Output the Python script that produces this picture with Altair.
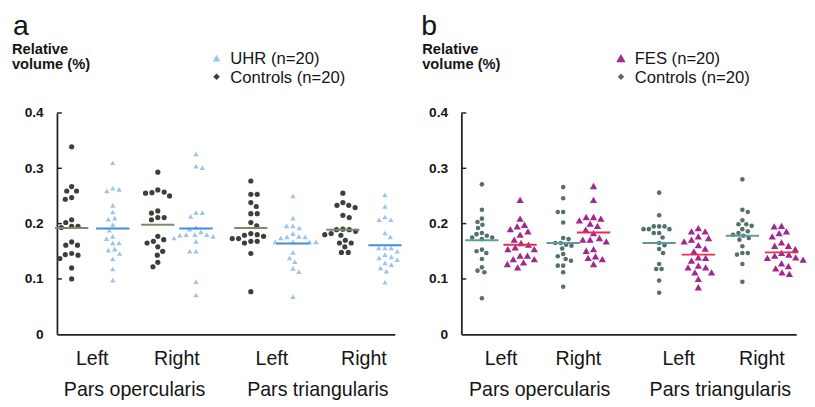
import altair as alt
import pandas as pd

# ---------------- data (relative volume, %) ----------------
SIDES = ["Left", "Right", "Left", "Right"]
REGIONS = ["Pars opercularis", "Pars triangularis"]

# Panel a: UHR vs controls
a_ctrl_LO = [0.339, 0.267, 0.259, 0.259, 0.247, 0.244, 0.207, 0.202, 0.195, 0.195, 0.193, 0.167, 0.161, 0.161, 0.146, 0.144, 0.143, 0.137, 0.120, 0.100]
a_uhr_LO = [0.310, 0.264, 0.262, 0.259, 0.233, 0.221, 0.210, 0.208, 0.198, 0.188, 0.177, 0.173, 0.165, 0.165, 0.154, 0.152, 0.146, 0.136, 0.118, 0.098]
a_ctrl_RO = [0.293, 0.261, 0.257, 0.256, 0.255, 0.250, 0.223, 0.219, 0.211, 0.211, 0.207, 0.177, 0.171, 0.168, 0.165, 0.158, 0.150, 0.143, 0.130, 0.122]
a_uhr_RO = [0.326, 0.304, 0.301, 0.220, 0.220, 0.213, 0.193, 0.190, 0.185, 0.180, 0.180, 0.180, 0.179, 0.177, 0.174, 0.168, 0.150, 0.150, 0.095, 0.071]
a_ctrl_LT = [0.277, 0.253, 0.253, 0.238, 0.231, 0.218, 0.218, 0.202, 0.196, 0.182, 0.180, 0.179, 0.177, 0.173, 0.173, 0.168, 0.168, 0.165, 0.146, 0.077]
a_uhr_LT = [0.250, 0.210, 0.196, 0.196, 0.192, 0.182, 0.177, 0.176, 0.176, 0.174, 0.167, 0.167, 0.167, 0.167, 0.148, 0.138, 0.131, 0.119, 0.113, 0.068]
a_ctrl_RT = [0.255, 0.238, 0.233, 0.233, 0.229, 0.215, 0.211, 0.190, 0.189, 0.189, 0.186, 0.182, 0.180, 0.179, 0.170, 0.165, 0.165, 0.158, 0.148, 0.148]
a_uhr_RT = [0.252, 0.231, 0.212, 0.207, 0.207, 0.183, 0.176, 0.156, 0.156, 0.156, 0.150, 0.144, 0.140, 0.138, 0.135, 0.129, 0.126, 0.120, 0.114, 0.094]
a_ctrl_means = [0.192, 0.198, 0.192, 0.189]
a_uhr_means = [0.191, 0.191, 0.164, 0.161]

# Panel b: FES vs controls
b_ctrl_LO = [0.271, 0.225, 0.209, 0.203, 0.198, 0.192, 0.183, 0.181, 0.178, 0.175, 0.175, 0.172, 0.153, 0.150, 0.147, 0.136, 0.121, 0.115, 0.112, 0.065]
b_fes_LO = [0.243, 0.209, 0.198, 0.195, 0.190, 0.186, 0.180, 0.171, 0.165, 0.162, 0.157, 0.154, 0.154, 0.142, 0.142, 0.136, 0.136, 0.130, 0.127, 0.121]
b_ctrl_RO = [0.266, 0.246, 0.221, 0.221, 0.202, 0.174, 0.172, 0.165, 0.165, 0.162, 0.160, 0.155, 0.145, 0.141, 0.136, 0.133, 0.124, 0.124, 0.112, 0.086]
b_fes_RO = [0.268, 0.243, 0.212, 0.212, 0.209, 0.206, 0.200, 0.196, 0.189, 0.183, 0.174, 0.171, 0.171, 0.168, 0.154, 0.151, 0.141, 0.138, 0.136, 0.127]
b_ctrl_LT = [0.256, 0.215, 0.195, 0.195, 0.195, 0.190, 0.190, 0.190, 0.183, 0.183, 0.175, 0.165, 0.161, 0.154, 0.147, 0.127, 0.118, 0.118, 0.097, 0.075]
b_fes_LT = [0.192, 0.186, 0.186, 0.177, 0.174, 0.171, 0.168, 0.161, 0.155, 0.150, 0.139, 0.138, 0.133, 0.124, 0.121, 0.121, 0.112, 0.112, 0.100, 0.085]
b_ctrl_RT = [0.280, 0.225, 0.221, 0.206, 0.199, 0.199, 0.196, 0.190, 0.186, 0.183, 0.180, 0.178, 0.174, 0.171, 0.159, 0.147, 0.147, 0.144, 0.127, 0.095]
b_fes_RT = [0.196, 0.195, 0.186, 0.183, 0.177, 0.166, 0.160, 0.160, 0.154, 0.147, 0.144, 0.142, 0.139, 0.138, 0.135, 0.128, 0.123, 0.119, 0.112, 0.109]
b_ctrl_means = [0.170, 0.165, 0.165, 0.178]
b_fes_means = [0.162, 0.184, 0.144, 0.148]

Y_TICKS = [0, 0.1, 0.2, 0.3, 0.4]

# ---------------- layout ----------------
H = 226
FONT = "Liberation Sans"
TXT = "#151515"


def swarm(values, center, diam, ypx):
    placed = []
    xs = [0.0] * len(values)
    order = sorted(range(len(values)), key=lambda i: -values[i])
    flip = 1
    for i in order:
        y = values[i] * ypx
        best = None
        k = 0
        while best is None:
            cands = [0.0] if k == 0 else [flip * k * 0.5, -flip * k * 0.5]
            for off in cands:
                if all((off - px) ** 2 + (y - py) ** 2 >= diam ** 2 for px, py in placed):
                    best = off
                    break
            k += 1
        flip = -flip
        placed.append((best, y))
        xs[i] = center + best
    return xs


def panel(letter, pat_label, ctrl_sets, pat_sets, ctrl_means, pat_means,
          ctrl_centers, pat_centers, W, style, title_dx, relvol_dx):
    ypx = H / 0.4
    rows = []
    for g in range(4):
        for v, x in zip(ctrl_sets[g], swarm(ctrl_sets[g], ctrl_centers[g], style["cd"], ypx)):
            rows.append({"series": "Controls", "value": v, "x": x})
        for v, x in zip(pat_sets[g], swarm(pat_sets[g], pat_centers[g], style["pd"], ypx)):
            rows.append({"series": pat_label, "value": v, "x": x})
    df = pd.DataFrame(rows)

    X = alt.X("x:Q", scale=alt.Scale(domain=[0, W], nice=False, zero=False),
              axis=alt.Axis(labels=False, ticks=False, grid=False, title=None,
                            domainColor="#222", domainWidth=1.8))
    Y = alt.Y("value:Q", scale=alt.Scale(domain=[0, 0.4], nice=False),
              axis=alt.Axis(values=Y_TICKS, ticks=False, grid=False, title=None,
                            domainColor="#222", domainWidth=1.8,
                            labelExpr="datum.value == 0 ? '0' : format(datum.value, '.1f')",
                            labelFont=FONT, labelFontSize=14, labelFontWeight="bold",
                            labelColor=TXT, labelPadding=14))

    ctrl_pts = alt.Chart(df[df.series == "Controls"]).mark_circle(
        size=style["cs"], color=style["cc"], opacity=1
    ).encode(x=X, y=Y)
    pat_pts = alt.Chart(df[df.series != "Controls"]).mark_point(
        shape="triangle-up", filled=True, size=style["ps"], color=style["pc"], opacity=1
    ).encode(x=X, y=Y)

    means = pd.DataFrame(
        [{"x": c - 17, "x2": c + 17, "value": m, "s": "Controls"} for c, m in zip(ctrl_centers, ctrl_means)]
        + [{"x": c - 17, "x2": c + 17, "value": m, "s": pat_label} for c, m in zip(pat_centers, pat_means)]
    )
    ctrl_line = alt.Chart(means[means.s == "Controls"]).mark_rule(
        color=style["cl"], strokeWidth=2
    ).encode(x=X, x2="x2:Q", y=Y)
    pat_line = alt.Chart(means[means.s != "Controls"]).mark_rule(
        color=style["pl"], strokeWidth=2
    ).encode(x=X, x2="x2:Q", y=Y)

    ticks = alt.Chart(pd.DataFrame({"value": Y_TICKS[1:]})).mark_rule(
        color="#222", strokeWidth=1.5
    ).encode(x=alt.value(0), x2=alt.value(5), y=Y)

    # x-axis category labels (midpoints of each pair)
    mids = [(c + p) / 2 for c, p in zip(ctrl_centers, pat_centers)]
    side_df = pd.DataFrame({"x": mids, "label": SIDES})
    region_df = pd.DataFrame({"x": [(mids[0] + mids[1]) / 2, (mids[2] + mids[3]) / 2], "label": REGIONS})
    side_txt = alt.Chart(side_df).mark_text(
        font=FONT, fontSize=20, color=TXT, baseline="alphabetic", align="center"
    ).encode(x=X, y=alt.value(H + 31), text="label:N")
    region_txt = alt.Chart(region_df).mark_text(
        font=FONT, fontSize=20, color=TXT, baseline="alphabetic", align="center"
    ).encode(x=X, y=alt.value(H + 63), text="label:N")

    one = pd.DataFrame({"k": [0]})
    letter_txt = alt.Chart(one).mark_text(
        text=letter, font=FONT, fontSize=29, color=TXT, align="left", baseline="alphabetic"
    ).encode(x=alt.value(title_dx), y=alt.value(-80))
    relvol = alt.Chart(one).mark_text(
        text=["Relative", "volume (%)"], font=FONT, fontSize=15, fontWeight="bold", color=TXT,
        align="left", baseline="alphabetic", lineHeight=15
    ).encode(x=alt.value(relvol_dx), y=alt.value(-60))

    leg_tri = alt.Chart(one).mark_point(
        shape="triangle-up", filled=True, size=style["lps"], color=style["pc"], opacity=1
    ).encode(x=alt.value(163), y=alt.value(-56))
    leg_dia = alt.Chart(one).mark_point(
        shape="diamond", filled=True, size=45, color=style["cc"], opacity=1
    ).encode(x=alt.value(163), y=alt.value(-37))
    leg_t1 = alt.Chart(one).mark_text(
        text=pat_label, font=FONT, fontSize=17, color=TXT, align="left", baseline="alphabetic"
    ).encode(x=alt.value(177), y=alt.value(-50))
    leg_t2 = alt.Chart(one).mark_text(
        text="Controls (n=20)", font=FONT, fontSize=17, color=TXT, align="left", baseline="alphabetic"
    ).encode(x=alt.value(177), y=alt.value(-31))

    return alt.layer(
        ctrl_pts, pat_pts, ctrl_line, pat_line, ticks, side_txt, region_txt,
        letter_txt, relvol, leg_tri, leg_dia, leg_t1, leg_t2
    ).properties(width=W, height=H)


style_a = {"cc": "#3a403c", "cs": 28, "cd": 6.5, "pc": "#9cc4ec", "ps": 30, "pd": 6.5,
           "cl": "#7c8a6e", "pl": "#3d8fe0", "lps": 60}
style_b = {"cc": "#55706e", "cs": 22, "cd": 5.5, "pc": "#a2278f", "ps": 55, "pd": 7.5,
           "cl": "#5f9a9a", "pl": "#e0324b", "lps": 90}

chart_a = panel("a", "UHR (n=20)",
                [a_ctrl_LO, a_ctrl_RO, a_ctrl_LT, a_ctrl_RT],
                [a_uhr_LO, a_uhr_RO, a_uhr_LT, a_uhr_RT],
                a_ctrl_means, a_uhr_means,
                [15, 103, 198, 292], [57, 142, 241, 335], 345, style_a, -45, -46)
chart_b = panel("b", "FES (n=20)",
                [b_ctrl_LO, b_ctrl_RO, b_ctrl_LT, b_ctrl_RT],
                [b_fes_LO, b_fes_RO, b_fes_LT, b_fes_RT],
                b_ctrl_means, b_fes_means,
                [21, 104, 202, 287], [60, 135, 242, 327], 342, style_b, -41, -40)

chart = alt.hconcat(chart_a, chart_b, spacing=19).properties(
    padding={"left": 4, "top": 0, "right": 0, "bottom": 0}
).configure(font=FONT).configure_view(stroke=None)

chart.save("out.html", embed_options={"renderer": "svg", "actions": False})
